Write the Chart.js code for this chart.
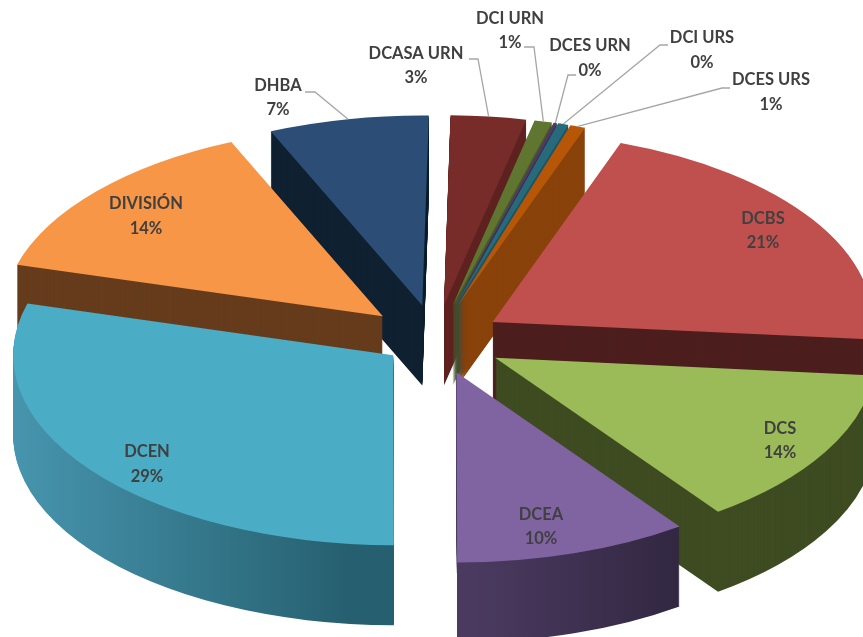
<!DOCTYPE html>
<html>
<head>
<meta charset="utf-8">
<title>Pie</title>
<script src="https://cdn.jsdelivr.net/npm/chart.js@4"></script>
<style>
  html, body { margin: 0; padding: 0; background: #fff; overflow: hidden; }
  canvas { display: block; }
</style>
</head>
<body>
<canvas id="pieChart" width="863" height="637"></canvas>
<script>
const categories = ['DCBS', 'DCS', 'DCEA', 'DCEN', 'DIVISIÓN', 'DHBA', 'DCASA URN', 'DCI URN', 'DCES URN', 'DCI URS', 'DCES URS'];
const shares = [21, 13.55, 9.95, 29.4, 14.1, 6.8, 3.2, 0.75, 0.15, 0.45, 0.65];

const topColors = ['#C0504D', '#9BBB59', '#8064A2', '#4BACC6', '#F79646', '#2C4D75', '#772C2A', '#5F7530', '#4D3B62', '#276A7C', '#B65708'];
const wallColors = ['#4D1E1E', '#3F4C22', '#33283F', '#2A6675', '#663C1C', '#0F2030', '#5E2220', '#4A5C25', '#3A2C4A', '#1F5360', '#88420A'];
// rim shading left to right, only the two front slices have it
const rimShades = { DCEA: ['#4A3A60', '#30263F'], DCEN: ['#4A9AB4', '#266070'] };

// text centre x, y of first line, y of second line
const labelPos = {
  'DCBS': [763, 219, 243],
  'DCS': [780, 429, 453],
  'DCEA': [541, 515, 539],
  'DCEN': [147, 452, 477],
  'DIVISIÓN': [146, 204, 229],
  'DHBA': [278, 86, 110],
  'DCASA URN': [416, 54, 78],
  'DCI URN': [510, 19, 43],
  'DCES URN': [590, 46, 71],
  'DCI URS': [702, 38, 63],
  'DCES URS': [771, 80, 105]
};
// from the text to the elbow, the line then runs to the rim of the slice
const leaders = {
  'DHBA': [[305, 92], [315, 92]],
  'DCASA URN': [[469, 59], [478, 59]],
  'DCI URN': [[524, 47], [534, 47]],
  'DCES URN': [[576, 75], [568, 75]],
  'DCI URS': [[668, 45], [660, 45]],
  'DCES URS': [[730, 88], [722, 88]]
};
// the original is drawn in perspective, small shift per slice to follow it
const sliceShift = {
  'DCBS': [2, 2],
  'DCS': [3, 7],
  'DCEA': [-2, 8],
  'DCEN': [1, 1],
  'DIVISIÓN': [-12, 0],
  'DHBA': [-6, -1],
  'DCASA URN': [-3, -1],
  'DCI URN': [-2, -1],
  'DCES URN': [-2, -1],
  'DCI URS': [-2, -1],
  'DCES URS': [-2, -1]
};

const squash = 0.5;
const depth = 80;
const explode = 60;

const midAngle = arc => (arc.startAngle + arc.endAngle) / 2;

// where the tip of a slice sits on the page
function sliceTip(arc, name) {
  const mid = midAngle(arc);
  const shift = sliceShift[name];
  return {
    x: arc.x + Math.cos(mid) * explode + shift[0],
    y: arc.y + Math.sin(mid) * explode * squash + shift[1]
  };
}

const pie3d = {
  id: 'pie3d',
  beforeDatasetsDraw(chart) {
    const ctx = chart.ctx;
    const arcs = chart.getDatasetMeta(0).data;

    // back slices first
    const order = arcs.map((a, i) => i).sort((p, q) => Math.sin(midAngle(arcs[p])) - Math.sin(midAngle(arcs[q])));

    const paint = (arc, color) => {
      const saved = arc.options;
      arc.options = Object.assign({}, saved, { backgroundColor: color });
      arc.draw(ctx);
      arc.options = saved;
    };

    order.forEach(i => {
      const arc = arcs[i];
      const tip = sliceTip(arc, categories[i]);
      const shade = rimShades[categories[i]];
      let wall = wallColors[i];
      if (shade) {
        const from = tip.x + Math.cos(arc.startAngle) * arc.outerRadius;
        const to = tip.x + Math.cos(arc.endAngle) * arc.outerRadius;
        wall = ctx.createLinearGradient(Math.min(from, to), 0, Math.max(from, to), 0);
        wall.addColorStop(0, shade[0]);
        wall.addColorStop(1, shade[1]);
      }
      for (let d = depth; d >= 0; d--) {
        ctx.save();
        ctx.translate(tip.x - arc.x, tip.y + d);
        ctx.scale(1, squash);
        ctx.translate(0, -arc.y);
        paint(arc, d === 0 ? topColors[i] : wall);
        ctx.restore();
      }
    });
    return false;
  },
  afterDraw(chart) {
    const ctx = chart.ctx;
    const arcs = chart.getDatasetMeta(0).data;
    const total = shares.reduce((s, v) => s + v, 0);

    ctx.save();
    ctx.strokeStyle = '#A6A6A6';
    ctx.lineWidth = 1.3;
    categories.forEach((name, i) => {
      const pts = leaders[name];
      if (!pts) return;
      const arc = arcs[i];
      const mid = midAngle(arc);
      const tip = sliceTip(arc, name);
      ctx.beginPath();
      ctx.moveTo(pts[0][0], pts[0][1]);
      ctx.lineTo(pts[1][0], pts[1][1]);
      ctx.lineTo(tip.x + Math.cos(mid) * arc.outerRadius, tip.y + Math.sin(mid) * arc.outerRadius * squash);
      ctx.stroke();
    });

    ctx.fillStyle = '#404040';
    ctx.font = 'bold 16.5px Lato';
    ctx.textAlign = 'center';
    ctx.textBaseline = 'middle';
    categories.forEach((name, i) => {
      const p = labelPos[name];
      ctx.fillText(name, p[0], p[1]);
      ctx.fillText(Math.round(shares[i] / total * 100) + '%', p[0], p[2]);
    });
    ctx.restore();
  }
};

new Chart(document.getElementById('pieChart'), {
  type: 'pie',
  data: {
    labels: categories,
    datasets: [{
      data: shares,
      backgroundColor: topColors,
      borderWidth: 0
    }]
  },
  options: {
    responsive: false,
    animation: false,
    events: [],
    rotation: 19.7,
    radius: 380,
    layout: { padding: { left: 17, top: 35 } },
    plugins: {
      legend: { display: false },
      tooltip: { enabled: false }
    }
  },
  plugins: [pie3d]
});
</script>
</body>
</html>
